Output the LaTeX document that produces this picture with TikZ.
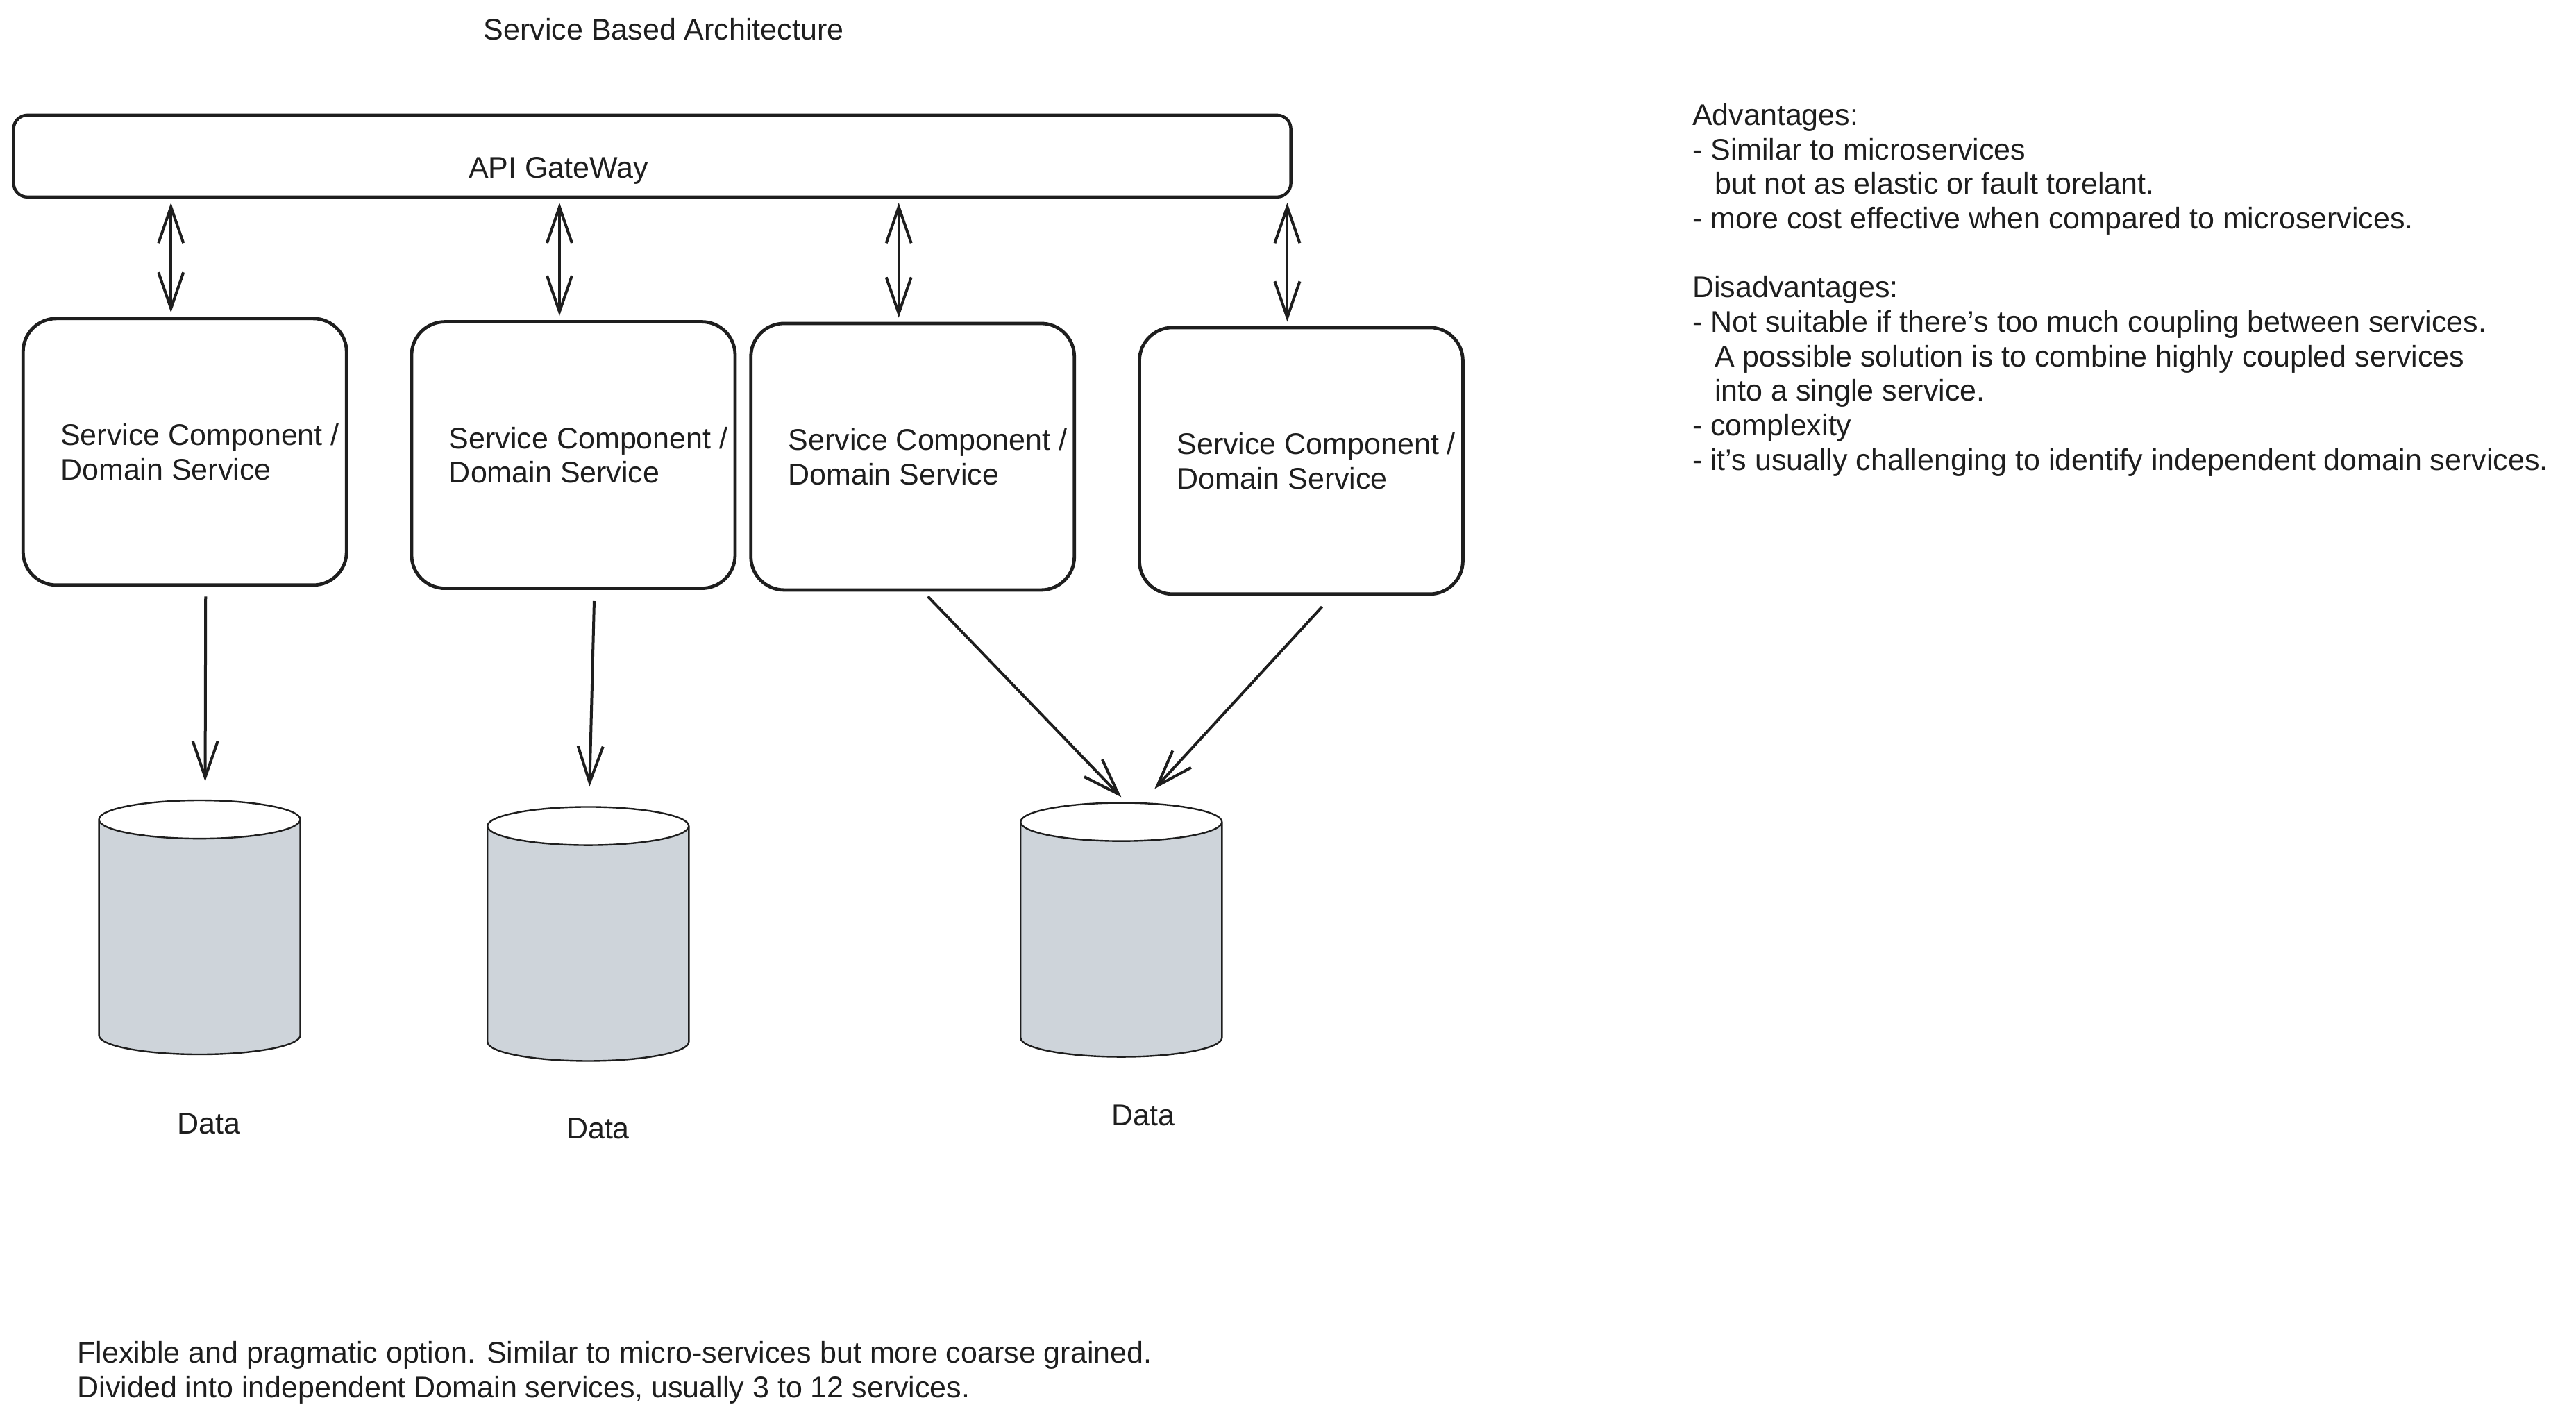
\documentclass[tikz,border=0pt]{standalone}
\usepackage{fontspec}
\setmainfont{Liberation Sans}
\usetikzlibrary{arrows.meta,positioning,shapes.geometric}

\definecolor{ink}{RGB}{30,30,30}
\definecolor{dbgray}{RGB}{206,212,218}

\begin{document}
\begin{tikzpicture}[x=1.1833pt,y=-1.1833pt,
  font=\fontsize{21.5}{24.85}\selectfont, color=ink,
  txt/.style={inner sep=0pt, align=left},
  gw/.style={draw, line width=2.2pt, rounded corners=10pt, minimum width=920pt, minimum height=59pt, inner sep=0pt},
  svc/.style={draw, line width=2.4pt, rounded corners=24pt, minimum width=233pt, minimum height=192pt, inner sep=0pt},
  svctxt/.style={txt, anchor=west},
  db/.style={cylinder, shape border rotate=90, anchor=shape center, draw, line width=1.2pt, aspect=0.19, inner xsep=72.5pt, inner ysep=0pt, minimum height=183pt,
    cylinder uses custom fill, cylinder body fill=dbgray, cylinder end fill=white},
  both/.style={{Straight Barb[length=26pt,width=18pt]}-{Straight Barb[length=26pt,width=18pt]}, line width=2pt, shorten <=3pt, shorten >=3pt},
  flow/.style={-{Straight Barb[length=26pt,width=18pt]}, line width=2pt},
]
\useasboundingbox (0,0) rectangle (1568,866);

\node[txt] (title) at (404,18) {Service Based Architecture};

% gateway on top
\node[gw] (gateway) at (397,95) {};
\node[txt] (gwlabel) at (340,104) {API GateWay};

% domain services
\foreach \i/\x/\y in {1/112.5/275, 2/349/277, 3/555.5/278, 4/792/280.5} {
  \node[svc] (svc\i) at (\x,\y) {};
  \node[svctxt] (svctxt\i) at ([xshift=28pt]svc\i.west) {Service Component /\\Domain Service};
  \draw[both] ([xshift=-10pt]svc\i.north) -- ([xshift=-10pt]svc\i.north |- gateway.south);
}

% databases
\node[db] (db1) at (121.5,564.5) {};
\node[db] (db2) at (358,568.5) {};
\node[db] (db3) at (682.5,566) {};
\node[txt] (data1) at (127,684) {Data};
\node[txt] (data2) at (364,687) {Data};
\node[txt] (data3) at (696,679) {Data};

\draw[flow] ([xshift=15pt,yshift=-7pt]svc1.south) -- ([xshift=4pt,yshift=13pt]db1.north);
\draw[flow] ([xshift=15pt,yshift=-8pt]svc2.south) -- ([xshift=1pt,yshift=14pt]db2.north);
\draw[flow] ([xshift=11pt,yshift=-3.5pt]svc3.south) -- ([yshift=3.5pt]db3.north);
\draw[flow] ([xshift=15pt,yshift=-8pt]svc4.south) -- ([xshift=24pt,yshift=9.5pt]db3.north);

% notes
\node[txt, anchor=west] (pros) at (1030,176.5) {Advantages:\\
- Similar to microservices\\
\hspace*{16pt}but not as elastic or fault torelant.\\
- more cost effective when compared to microservices.\\[24.85pt]
Disadvantages:\\
- Not suitable if there's too much coupling between services.\\
\hspace*{16pt}A possible solution is to combine highly coupled services\\
\hspace*{16pt}into a single service.\\
- complexity\\
- it's usually challenging to identify independent domain services.};

\node[txt, anchor=west] (note) at (47,835.5) {Flexible and pragmatic option. Similar to micro-services but more coarse grained.\\
Divided into independent Domain services, usually 3 to 12 services.};

\end{tikzpicture}
\end{document}
